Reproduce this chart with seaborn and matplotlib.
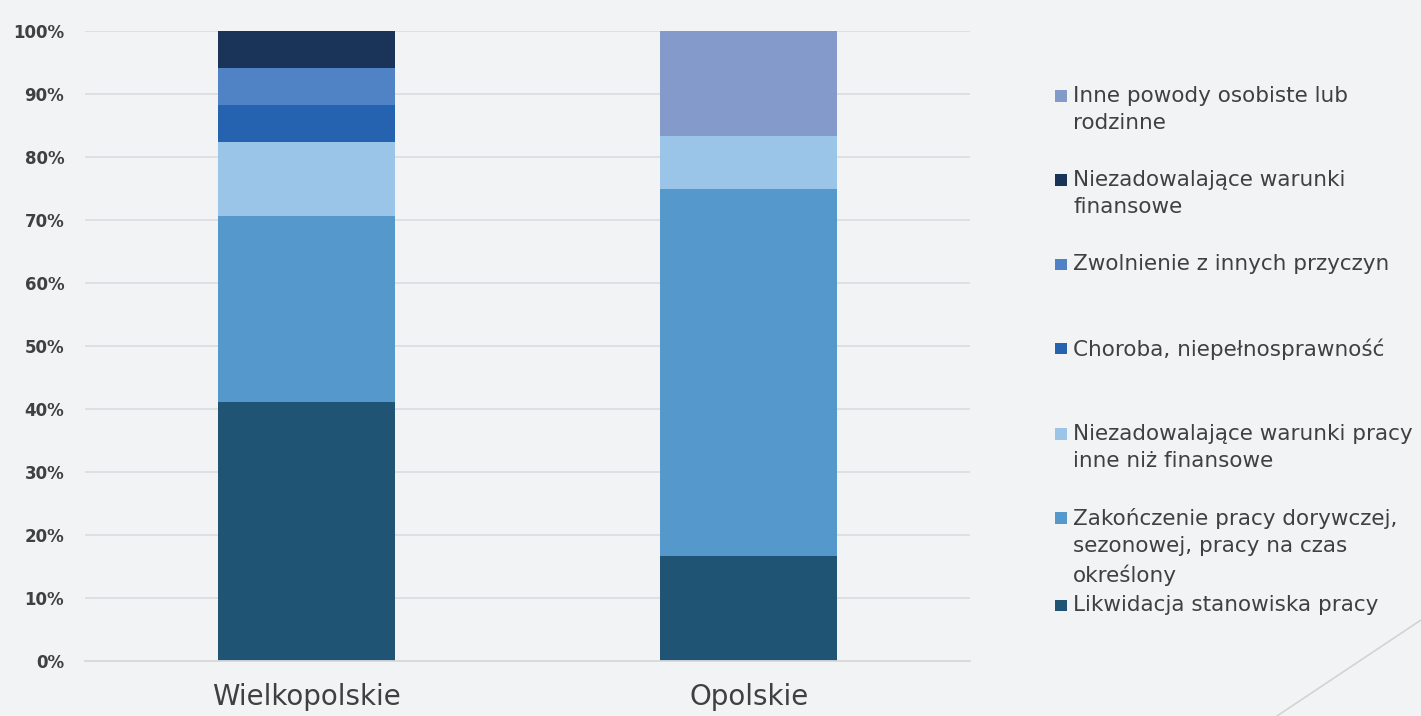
import matplotlib.pyplot as plt
import matplotlib.lines as mlines
from matplotlib.container import BarContainer
from matplotlib.legend_handler import HandlerPatch
from matplotlib.patches import Rectangle
import numpy as np
import pandas as pd
import seaborn as sns

# regions on the x axis
regions = ["Wielkopolskie", "Opolskie"]

# reasons, bottom to top of the stack
reasons = [
    "Likwidacja stanowiska pracy",
    "Zakończenie pracy dorywczej,\nsezonowej, pracy na czas\nokreślony",
    "Niezadowalające warunki pracy\ninne niż finansowe",
    "Choroba, niepełnosprawność",
    "Zwolnienie z innych przyczyn",
    "Niezadowalające warunki\nfinansowe",
    "Inne powody osobiste lub\nrodzinne",
]

# shares in percent, same order as reasons
wielkopolskie = [41.18, 29.41, 11.76, 5.88, 5.88, 5.88, 0.0]
opolskie = [16.67, 58.33, 8.33, 0.0, 0.0, 0.0, 16.67]

colors = ["#1F5475", "#5599CC", "#9AC4E8", "#2562B0",
          "#5083C5", "#1A3358", "#839ACB"]

BG = "#F2F3F5"
TXT = "#404040"

sns.set_theme(style="white")
plt.rcParams["font.family"] = ["DejaVu Sans"]

df = pd.DataFrame({"region": regions})
cum = np.cumsum(np.array([wielkopolskie, opolskie]), axis=1)

fig = plt.figure(figsize=(14.21, 7.16), dpi=100, facecolor=BG)
ax = fig.add_axes([85 / 1421, 1 - 661 / 716, 885 / 1421, 630 / 716])
ax.set_facecolor(BG)

# stacked bars: draw cumulative heights from the top layer down
for i in range(len(reasons) - 1, -1, -1):
    df["val"] = cum[:, i]
    sns.barplot(data=df, x="region", y="val", color=colors[i], width=0.4,
                saturation=1, ax=ax, label=reasons[i], linewidth=0, zorder=2)

ax.set_ylim(0, 100)
ax.set_xlim(-0.5, 1.5)
ax.set_yticks(range(0, 101, 10))
ax.set_yticklabels([f"{v}%" for v in range(0, 101, 10)])
ax.yaxis.grid(True, color="#DCDDE0", linewidth=1.3, zorder=0)
ax.set_axisbelow(True)
for s in ["top", "right", "left"]:
    ax.spines[s].set_visible(False)
ax.spines["bottom"].set_color("#D9D9D9")
ax.spines["bottom"].set_linewidth(1.3)
ax.set_xlabel("")
ax.set_ylabel("")
ax.tick_params(axis="y", length=0, pad=15, labelsize=12, labelcolor=TXT)
ax.tick_params(axis="x", length=0, pad=16, labelsize=20, labelcolor=TXT)
for t in ax.get_yticklabels():
    t.set_fontweight("bold")


def square_low(legend, orig_handle, xdescent, ydescent, width, height, fontsize):
    # small square sitting at the bottom of the handle box
    s = 0.55 * fontsize
    return Rectangle((-xdescent, -ydescent), s, s)


def from_first_bar(legend_handle, orig_handle):
    legend_handle.update_from(orig_handle[0])


# legend: every entry takes three lines so the rows are evenly spaced
handles, labels = ax.get_legend_handles_labels()
if ax.get_legend() is not None:
    ax.get_legend().remove()
padded = [l + "\n" * (2 - l.count("\n")) for l in labels]
leg = fig.legend(handles, padded, loc="upper left",
                 bbox_to_anchor=(1055 / 1421, 1 - 86 / 716),
                 frameon=False, fontsize=15.5, labelcolor=TXT,
                 handlelength=0.55, handleheight=0.78, handletextpad=0.3,
                 labelspacing=0.45, borderpad=0, borderaxespad=0,
                 handler_map={BarContainer: HandlerPatch(
                     patch_func=square_low, update_func=from_first_bar)})
for t in leg.get_texts():
    t.set_linespacing(1.45)
for hp in leg._legend_handle_box.get_children():
    for row in hp.get_children():
        row.align = "top"

# decorative corner line
fig.add_artist(mlines.Line2D([1277 / 1421, 1.0], [0.0, 1 - 620 / 716],
                             color="#D3D3D3", linewidth=1.2))

fig.savefig("out.png", dpi=100, facecolor=BG)
